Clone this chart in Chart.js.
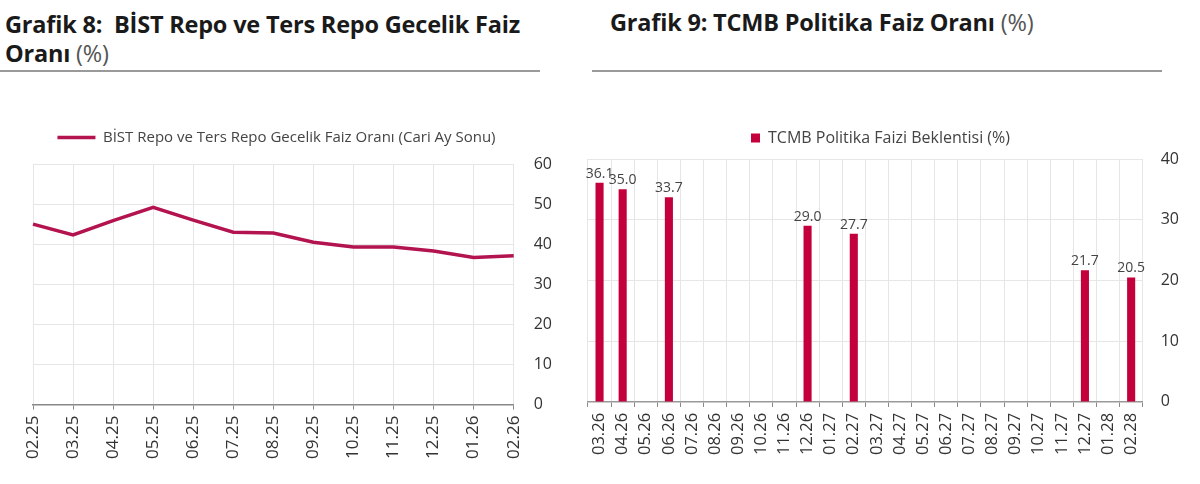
<!DOCTYPE html>
<html lang="tr">
<head>
<meta charset="utf-8">
<script src="https://cdn.jsdelivr.net/npm/chart.js@4.4.1/dist/chart.umd.min.js"></script>
<style>
  body { margin: 0; background: #fff; font-family: "Open Sans", sans-serif; }
  #sayfa { position: relative; width: 1200px; height: 484px; overflow: hidden; }
  .baslik { position: absolute; font-size: 23.5px; font-weight: bold; color: #1a1a1a; line-height: 29px; letter-spacing: -0.2px; }
  .baslik span { font-weight: normal; color: #555; }
  .cizgi { position: absolute; top: 70px; height: 2px; background: #9a9a9a; }
  .kutu { position: absolute; bottom: 0; }
</style>
</head>
<body>
<div id="sayfa">
  <div class="baslik" style="left:5px; top:10px;">Grafik 8:&nbsp; BİST Repo ve Ters Repo Gecelik Faiz<br>Oranı <span>(%)</span></div>
  <div class="cizgi" style="left:0; width:540px;"></div>
  <div class="baslik" style="left:610px; top:8px;">Grafik 9: TCMB Politika Faiz Oranı <span>(%)</span></div>
  <div class="cizgi" style="left:592px; width:570px;"></div>

  <div class="kutu" style="left:0; top:107px; width:576px;"><canvas id="grafik8"></canvas></div>
  <div class="kutu" style="left:570px; top:114px; width:630px;"><canvas id="grafik9"></canvas></div>
</div>

<script>
// Grafik 8 verileri
const aylar8 = ['02.25','03.25','04.25','05.25','06.25','07.25','08.25','09.25','10.25','11.25','12.25','01.26','02.26'];
const repoFaiz = [45.0, 42.3, 45.9, 49.2, 46.0, 43.0, 42.8, 40.5, 39.3, 39.3, 38.3, 36.7, 37.1];

// Grafik 9 verileri
const aylar9 = ['03.26','04.26','05.26','06.26','07.26','08.26','09.26','10.26','11.26','12.26','01.27','02.27',
                '03.27','04.27','05.27','06.27','07.27','08.27','09.27','10.27','11.27','12.27','01.28','02.28'];
const politikaFaiz = [36.1, 35.0, null, 33.7, null, null, null, null, null, 29.0, null, 27.7,
                      null, null, null, null, null, null, null, null, null, 21.7, null, 20.5];

const ortakYazi = { family: '"Open Sans", sans-serif' };
const izgara = '#e6e6e6';

// lejant ile grafik arasina bosluk, lejanti yatayda kaydir
function lejantAyari(ek, kayma) {
    return {
        id: 'lejantAyari',
        beforeInit(chart) {
            const fit = chart.legend.fit;
            chart.legend.fit = function () {
                fit.bind(chart.legend)();
                this.height += ek;
            };
        },
        afterLayout(chart) {
            chart.legend.left += kayma;
            chart.legend.right += kayma;
        }
    };
}

// cubuk etiketleri
const etiketEklentisi = {
    id: 'etiketler',
    afterDatasetsDraw(chart) {
        const ctx = chart.ctx;
        const meta = chart.getDatasetMeta(0);
        ctx.save();
        ctx.font = '14px "Open Sans", sans-serif';
        ctx.fillStyle = '#444';
        ctx.textAlign = 'center';
        ctx.textBaseline = 'bottom';
        meta.data.forEach((bar, i) => {
            const v = chart.data.datasets[0].data[i];
            if (v === null) return;
            ctx.fillText(v.toFixed(1), bar.x, bar.y - 2);
        });
        ctx.restore();
    }
};

new Chart(document.getElementById('grafik8'), {
    type: 'line',
    data: {
        labels: aylar8,
        datasets: [{
            label: 'BİST Repo ve Ters Repo Gecelik Faiz Oranı (Cari Ay Sonu)',
            data: repoFaiz,
            borderColor: '#b3134f',
            backgroundColor: '#b3134f',
            borderWidth: 3.5,
            pointRadius: 0,
            tension: 0
        }]
    },
    options: {
        responsive: true,
        maintainAspectRatio: false,
        animation: false,
        layout: { padding: { left: 33, right: 4, top: 4, bottom: 19 } },
        plugins: {
            tooltip: { enabled: false },
            legend: {
                labels: {
                    usePointStyle: true,
                    pointStyleWidth: 38,
                    pointStyle: 'line',
                    color: '#444',
                    padding: 19,
                    font: { ...ortakYazi, size: 15 }
                }
            }
        },
        scales: {
            x: {
                offset: false,
                grid: { color: izgara, tickColor: '#888', tickLength: 5 },
                border: { color: '#888', width: 1.5 },
                ticks: { color: '#333', minRotation: 90, maxRotation: 90, padding: 6, font: { ...ortakYazi, size: 17 } }
            },
            y: {
                position: 'right',
                min: 0, max: 60,
                grid: { color: izgara, drawTicks: false },
                border: { display: false },
                ticks: { stepSize: 10, color: '#333', padding: 20, font: { ...ortakYazi, size: 16 } }
            }
        }
    },
    plugins: [lejantAyari(9, -26)]
});

new Chart(document.getElementById('grafik9'), {
    type: 'bar',
    data: {
        labels: aylar9,
        datasets: [{
            label: 'TCMB Politika Faizi Beklentisi (%)',
            data: politikaFaiz,
            backgroundColor: '#c4003c',
            barPercentage: 0.7,
            categoryPercentage: 0.5
        }]
    },
    options: {
        responsive: true,
        maintainAspectRatio: false,
        animation: false,
        layout: { padding: { left: 18, right: 3, top: 4, bottom: 23 } },
        plugins: {
            tooltip: { enabled: false },
            legend: {
                labels: {
                    boxWidth: 9,
                    boxHeight: 9,
                    color: '#444',
                    padding: 12,
                    font: { ...ortakYazi, size: 16 }
                }
            }
        },
        scales: {
            x: {
                grid: { color: izgara, tickColor: '#888', tickLength: 5, offset: true },
                border: { color: '#999', width: 1.5 },
                ticks: { color: '#333', minRotation: 90, maxRotation: 90, padding: 6, autoSkip: false, font: { ...ortakYazi, size: 16.5 } }
            },
            y: {
                position: 'right',
                min: 0, max: 40,
                grid: { color: izgara, drawTicks: false },
                border: { display: false },
                ticks: { stepSize: 10, color: '#333', padding: 18, font: { ...ortakYazi, size: 16 } }
            }
        }
    },
    plugins: [etiketEklentisi, lejantAyari(3, -12)]
});
</script>
</body>
</html>
